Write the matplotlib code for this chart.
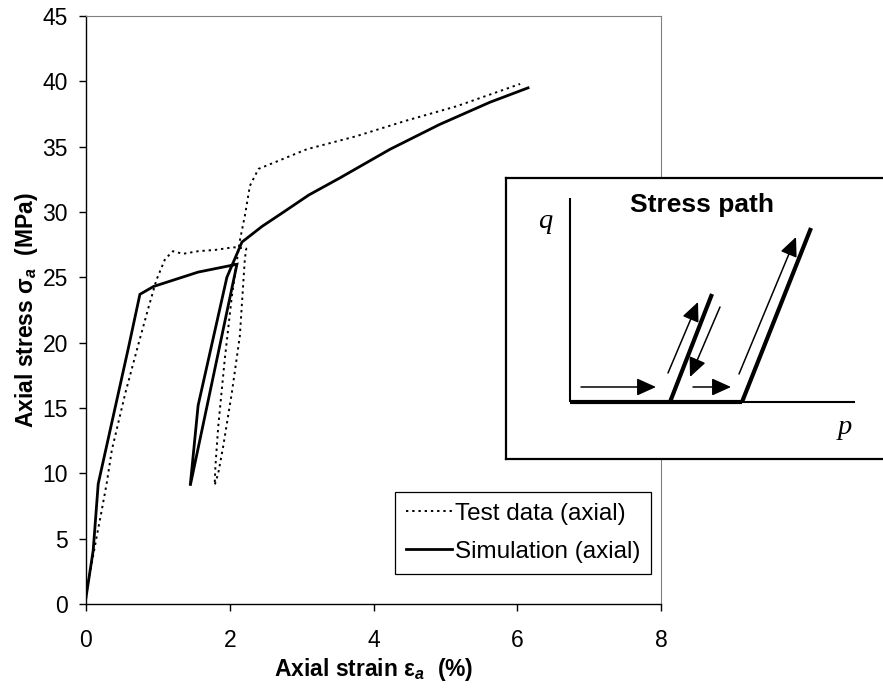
import matplotlib
matplotlib.use("Agg")
import matplotlib.pyplot as plt

plt.rcParams['font.family'] = ['Liberation Sans', 'DejaVu Sans']
plt.rcParams['mathtext.fontset'] = 'custom'
plt.rcParams['mathtext.it'] = 'Liberation Sans:italic:bold'
plt.rcParams['mathtext.rm'] = 'Liberation Sans:bold'
plt.rcParams['mathtext.bf'] = 'Liberation Sans:bold'

# Triaxial test: axial strain (%) vs axial stress (MPa)
test_strain = [0.0, 0.01, 0.08, 0.15, 0.22, 0.29, 0.36, 0.55, 0.73, 0.87, 0.98,
               1.10, 1.21, 1.35, 1.56, 1.80, 2.05, 2.23, 2.21, 2.14, 2.03, 1.91,
               1.84, 1.79, 1.80, 1.84, 1.93, 2.03, 2.10, 2.14, 2.21, 2.28, 2.40,
               2.67, 3.07, 3.76, 4.46, 5.16, 6.04]
test_stress = [0.3, 1.1, 3.1, 5.2, 7.2, 9.3, 11.8, 16.2, 19.9, 22.7, 24.8,
               26.4, 27.0, 26.8, 27.0, 27.1, 27.3, 27.2, 26.4, 20.5, 16.2, 12.1,
               10.0, 9.1, 10.5, 13.6, 18.7, 23.6, 26.3, 27.8, 29.7, 32.0, 33.3,
               33.9, 34.8, 35.8, 37.0, 38.1, 39.8]

sim_strain = [0.0, 0.10, 0.17, 0.59, 0.75, 0.94, 1.56, 2.10, 1.45, 1.56, 1.96,
              2.17, 2.45, 2.75, 3.10, 3.53, 4.23, 4.92, 5.62, 6.15]
sim_stress = [0.5, 4.1, 9.2, 19.6, 23.7, 24.3, 25.4, 26.0, 9.05, 15.2, 25.0,
              27.7, 28.9, 30.0, 31.3, 32.6, 34.8, 36.7, 38.4, 39.5]

x_ticks = [0, 2, 4, 6, 8]
y_ticks = [0, 5, 10, 15, 20, 25, 30, 35, 40, 45]

FS = 16.5
FS_LEG = 17.5
W, H = 883, 690
fig = plt.figure(figsize=(W / 100, H / 100), dpi=100)
ax = fig.add_axes([86 / W, (H - 604) / H, (661 - 86) / W, (604 - 16) / H])

ax.plot(test_strain, test_stress, color='black', lw=1.4,
        linestyle=(0, (1.2, 2.0)), label='Test data (axial)')
ax.plot(sim_strain, sim_stress, color='black', lw=2.0,
        solid_joinstyle='miter', label='Simulation (axial)')

ax.set_xlim(0, 8)
ax.set_ylim(0, 45)
ax.set_xticks(x_ticks)
ax.set_yticks(y_ticks)
ax.tick_params(direction='out', length=5, width=1.0, labelsize=FS)
ax.tick_params(axis='x', pad=13)
ax.tick_params(axis='y', pad=8)

for side in ('left', 'bottom'):
    ax.spines[side].set_color('black')
    ax.spines[side].set_linewidth(1.0)
for side in ('top', 'right'):
    ax.spines[side].set_color('#808080')
    ax.spines[side].set_linewidth(0.8)

ax.set_xlabel('Axial strain ε$_{a}$  (%)', fontsize=FS, fontweight='bold')
ax.set_ylabel('Axial stress σ$_{a}$  (MPa)', fontsize=FS, fontweight='bold')
ax.xaxis.set_label_coords(0.5, -0.088)
ax.yaxis.set_label_coords(-0.08, 0.5)

leg = ax.legend(loc='upper left', bbox_to_anchor=(395 / W, (H - 492) / H),
                bbox_transform=fig.transFigure, fontsize=FS_LEG, frameon=True,
                fancybox=False, edgecolor='black', framealpha=1,
                handlelength=1.9, handletextpad=0.1, borderpad=0.45,
                labelspacing=0.65, borderaxespad=0)
leg.get_frame().set_linewidth(0.9)

# Inset: schematic stress path in p-q space (pixel-scaled units)
ins = fig.add_axes([506 / W, (H - 459) / H, (892 - 506) / W, (459 - 178) / H])
ins.set_xlim(-64, -64 + (892 - 506))
ins.set_ylim(-57, 224)
ins.set_xticks([])
ins.set_yticks([])
for s in ins.spines.values():
    s.set_linewidth(1.6)
    s.set_color('black')
ins.set_zorder(5)

axes_q = ([0, 0], [0, 204])
axes_p = ([0, 285], [0, 0])
ins.plot(*axes_q, color='black', lw=1.5, solid_capstyle='butt')
ins.plot(*axes_p, color='black', lw=1.5, solid_capstyle='butt')

path_base = ([0, 172], [0, 0])
path_cycle = ([100, 142], [0, 108])
path_final = ([172, 241], [0, 174])
for seg in (path_base, path_cycle, path_final):
    ins.plot(*seg, color='black', lw=3.0, solid_capstyle='butt')

arrows = [((11, 15), (86, 15)),
          ((123, 15), (161, 15)),
          ((98, 29), (128, 100)),
          ((150, 95), (120, 25)),
          ((169, 28), (226, 165))]
for start, end in arrows:
    ins.annotate('', xy=end, xytext=start,
                 arrowprops=dict(arrowstyle='-|>,head_length=0.42,head_width=0.19',
                                 color='black', lw=1.1, mutation_scale=28,
                                 shrinkA=0, shrinkB=0))

ins.text(132, 197, 'Stress path', fontsize=19, fontweight='bold',
         ha='center', va='center')
ins.text(-25, 180, 'q', fontsize=FS + 4, family='Liberation Serif',
         style='italic', ha='center', va='center')
ins.text(275, -25, 'p', fontsize=FS + 4, family='Liberation Serif',
         style='italic', ha='center', va='center')

fig.savefig('out.png', dpi=100)
